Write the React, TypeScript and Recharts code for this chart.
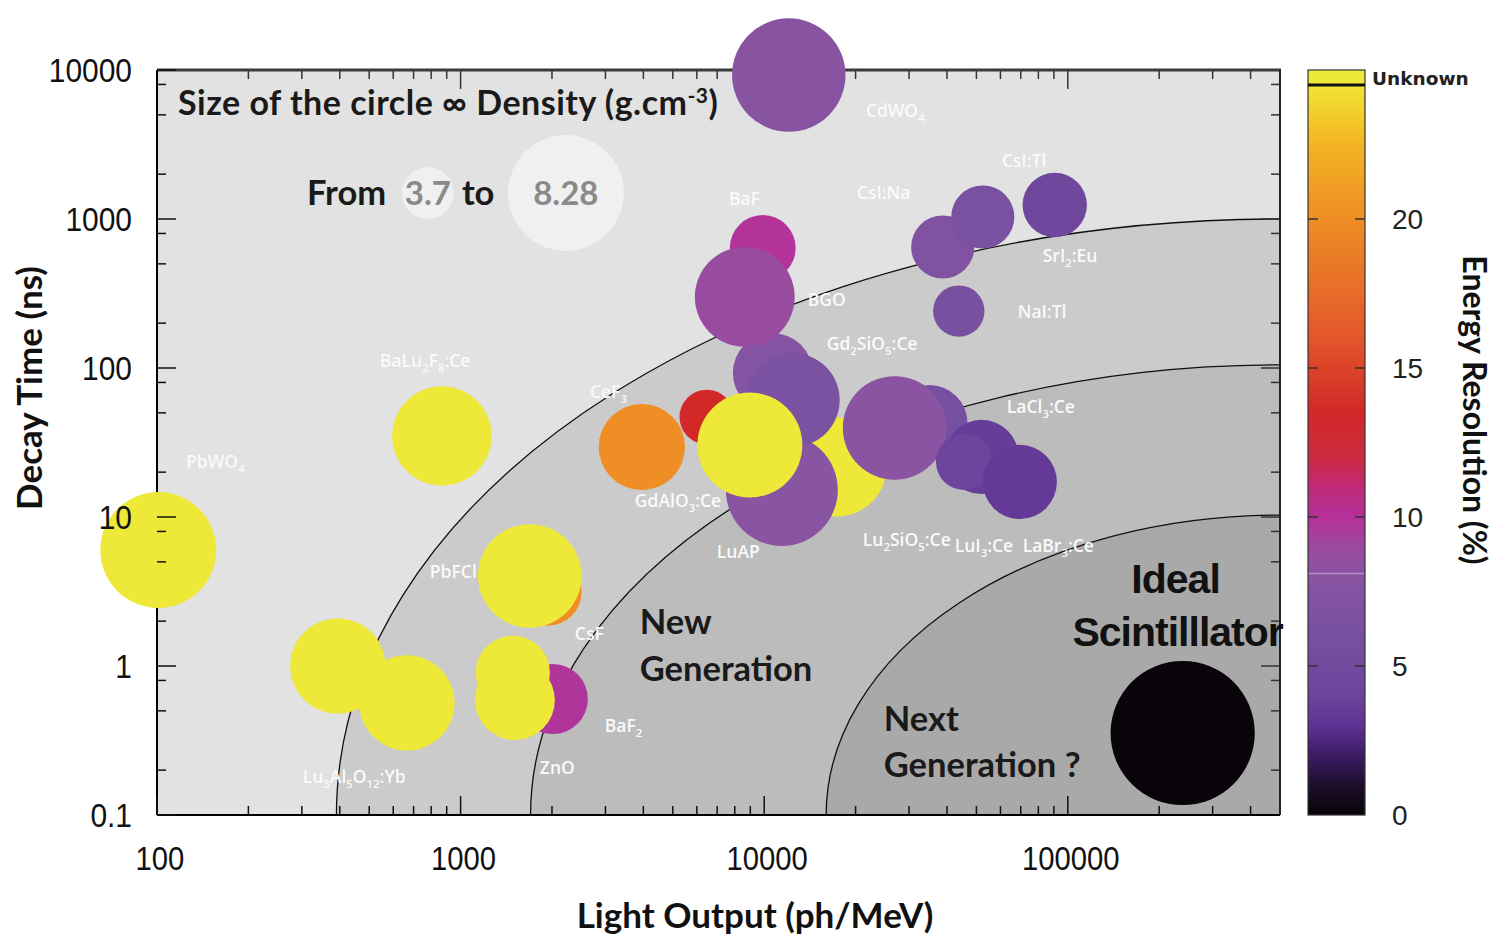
import React from 'react';
import * as R from 'recharts';

const { ScatterChart, Scatter, XAxis, YAxis } = R as any;

// ---------------- axes ----------------
const X_DOMAIN = [100, 500000];
const Y_DOMAIN = [0.1, 10000];
const X_MAJOR = [100, 1000, 10000, 100000];
const X_MINOR = [200, 300, 400, 500, 600, 700, 800, 900, 2000, 3000, 4000, 5000, 6000, 7000, 8000, 9000,
  20000, 30000, 40000, 50000, 60000, 70000, 80000, 90000, 200000, 300000, 400000];
const Y_MAJOR = [0.1, 1, 10, 100, 1000, 10000];
const Y_MINOR = [0.2, 0.5, 0.8, 2, 5, 8, 20, 50, 80, 200, 500, 800, 2000, 5000, 8000];
const X_TICK_LABELS = ['100', '1000', '10000', '100000'];
const Y_TICK_LABELS = ['0.1', '1', '10', '100', '1000', '10000'];

// ---------------- colour bar (energy resolution %) ----------------
const CB_TICKS = [0, 5, 10, 15, 20];
const CB_MAX = 25;
const CB_UNKNOWN_FROM = 24.5;
const ER_STOP_VALUES = [0, 1, 2, 3, 4, 6, 8, 9, 10, 11, 12, 13.5, 16, 20, 22.5, 24.5];
const ER_STOP_COLORS = ['#08040a', '#1e0e2c', '#3c1c64', '#5e3294', '#6c449c', '#7650a0', '#8a54a2', '#9c4aa0',
  '#b5309a', '#c02a78', '#cc2a40', '#d22828', '#e2562a', '#ef8e25', '#f3b423', '#f0e535'];
const UNKNOWN_COLOR = '#eee838';

// ---------------- crystals (circles) ----------------
const CRYSTAL = ['PbWO4', 'LuAG:Yb a', 'LuAG:Yb b', 'BaLu2F8:Ce', 'CsF', 'PbFCl', 'BaF2 fast', 'ZnO a', 'ZnO b', 'CeF3',
  'YAP-like', 'LuAP', 'LGSO', 'GSO', 'red', 'GdAlO3:Ce', 'BaF2 slow', 'BGO', 'CdWO4', 'CsI:Na', 'CsI:Tl', 'SrI2:Eu',
  'NaI:Tl', 'LaCl3:Ce', 'LSO', 'LuI3:Ce', 'LuI3:Ce b', 'LaBr3:Ce', 'Ideal'];
const LIGHT_OUTPUT = [101, 394, 666, 868, 1940, 1690, 2013, 1486, 1510, 3953,
  17340, 11430, 10670, 12420, 6470, 8970, 9890, 8630, 12050, 38730, 52480, 90570,
  43750, 35080, 26900, 52000, 45500, 69500, 239000];
const DECAY_TIME = [6.0, 1.0, 0.565, 35, 3.14, 4.02, 0.6, 0.9, 0.59, 29.5,
  21.7, 15.2, 92.5, 61, 46.9, 30.4, 639, 300, 9250, 649, 1031, 1242,
  241, 42.8, 39.6, 25.3, 23.4, 17.2, 0.355];
const DENSITY = [8.28, 6.8, 6.8, 7.1, 4.8, 7.4, 5.0, 5.3, 5.7, 6.16,
  7.1, 8.0, 5.7, 6.7, 3.9, 7.5, 4.7, 7.13, 8.1, 4.51, 4.51, 4.6,
  3.67, 5.4, 7.4, 5.3, 4.0, 5.3, 10.3];
const ENERGY_RES: (number | null)[] = [null, null, null, null, 20, null, 9.8, null, null, 20,
  null, 7.9, 7.4, 6.5, 13.5, null, 9.9, 8.8, 7.8, 7.0, 6.3, 4.5,
  6.2, 6.0, 8.0, 3.6, 4.2, 3.4, 0];

// ---------------- crystal name labels ----------------
const LABEL_TEXT = ['CdWO_4', 'CsI:Tl', 'CsI:Na', 'BaF', 'SrI_2:Eu', 'BGO', 'NaI:Tl', 'Gd_2SiO_5:Ce', 'BaLu_2F_8:Ce',
  'CeF_3', 'LaCl_3:Ce', 'PbWO_4', 'GdAlO_3:Ce', 'Lu_2SiO_5:Ce', 'LuI_3:Ce', 'LaBr_3:Ce', 'LuAP', 'PbFCl', 'CsF',
  'BaF_2', 'ZnO', 'Lu_3Al_5O_12:Yb'];
const LABEL_X = [21620, 60600, 20180, 7650, 82700, 13920, 68400, 16070, 542, 2666, 62950, 124.6, 3750, 21130,
  42400, 71000, 6980, 792, 2378, 2985, 1824, 302];
const LABEL_Y = [5309, 2449, 1494, 1361, 565, 286, 237, 145, 111, 69, 54.7, 23.4, 12.8, 7.0, 6.4, 6.4, 5.82,
  4.27, 1.64, 0.396, 0.207, 0.18];

// ---------------- annotations ----------------
const NOTE_TEXT = ['New', 'Generation', 'Next', 'Generation ?', 'From', 'to'];
const NOTE_X = [3892, 3892, 24770, 24770, 311.8, 1010];
const NOTE_Y = [1.97, 0.955, 0.441, 0.217, 1494, 1494];
const IDEAL_TEXT = ['Ideal', 'Scintilllator'];
const IDEAL_X = [226500, 230000];
const IDEAL_Y = [3.9, 1.72];
const TITLE_X = [117.3];
const TITLE_Y = [6012];
const LEGEND_DENSITY = [3.7, 8.28];
const LEGEND_X = [780, 2222];
const LEGEND_Y = [1494, 1494];

// ---------------- background zones ----------------
const ZONE_X_START = [390, 1700, 16000];
const ZONE_Y_END = [1000, 105, 10.3];

// ---------------- built tables ----------------
const circles = CRYSTAL.map((name, i) => ({
  name, x: LIGHT_OUTPUT[i], y: DECAY_TIME[i], density: DENSITY[i], er: ENERGY_RES[i],
}));
const labels = LABEL_TEXT.map((t, i) => ({ text: t, x: LABEL_X[i], y: LABEL_Y[i] }));
const notes = NOTE_TEXT.map((t, i) => ({ text: t, x: NOTE_X[i], y: NOTE_Y[i] }));
const idealNotes = IDEAL_TEXT.map((t, i) => ({ text: t, x: IDEAL_X[i], y: IDEAL_Y[i] }));
const titleNote = TITLE_X.map((x, i) => ({ x, y: TITLE_Y[i] }));
const legendCircles = LEGEND_DENSITY.map((d, i) => ({ density: d, x: LEGEND_X[i], y: LEGEND_Y[i] }));

// ---------------- styling ----------------
const PX_PER_DENSITY = 7.0;
const ZONE_FILLS = ['#e1e2e1', '#cbcbcb', '#bcbcbc', '#a9a9a9'];
const BOLD_FONT = "Lato, 'Open Sans', sans-serif";
const TICK_FONT = "'Liberation Sans', Arial, sans-serif";
const FALLBACK_AREA = { x: 157, y: 70, width: 1123, height: 745 };

function hexToRgb(h: string) {
  const n = parseInt(h.slice(1), 16);
  return [(n >> 16) & 255, (n >> 8) & 255, n & 255];
}
function erColor(er: number | null) {
  if (er == null) return UNKNOWN_COLOR;
  const v = ER_STOP_VALUES;
  if (er <= v[0]) return ER_STOP_COLORS[0];
  for (let i = 1; i < v.length; i++) {
    if (er <= v[i]) {
      const t = (er - v[i - 1]) / (v[i] - v[i - 1]);
      const a = hexToRgb(ER_STOP_COLORS[i - 1]);
      const b = hexToRgb(ER_STOP_COLORS[i]);
      const c = a.map((av, k) => Math.round(av + (b[k] - av) * t));
      return `rgb(${c[0]},${c[1]},${c[2]})`;
    }
  }
  return ER_STOP_COLORS[ER_STOP_COLORS.length - 1];
}

function usePA() {
  const hook = (R as any).usePlotArea;
  const pa = hook ? hook() : null;
  return pa && pa.width ? pa : FALLBACK_AREA;
}

const LX0 = Math.log10(X_DOMAIN[0]);
const LX1 = Math.log10(X_DOMAIN[1]);
const LY0 = Math.log10(Y_DOMAIN[0]);
const LY1 = Math.log10(Y_DOMAIN[1]);

function Background() {
  const { x, y, width, height } = usePA();
  const right = x + width;
  const bottom = y + height;
  const px = (v: number) => x + (width * (Math.log10(v) - LX0)) / (LX1 - LX0);
  const py = (v: number) => y + (height * (LY1 - Math.log10(v))) / (LY1 - LY0);
  return (
    <g>
      <rect x={x} y={y} width={width} height={height} fill={ZONE_FILLS[0]} />
      {ZONE_X_START.map((xs, i) => {
        const x0 = px(xs);
        const y0 = py(ZONE_Y_END[i]);
        const rx = right - x0;
        const ry = bottom - y0;
        const arc = `M${x0},${bottom} A${rx},${ry} 0 0 1 ${right},${y0}`;
        return (
          <g key={i}>
            <path d={`${arc} L${right},${bottom} Z`} fill={ZONE_FILLS[i + 1]} />
            <path d={arc} fill="none" stroke="#111" strokeWidth={1.3} />
          </g>
        );
      })}
    </g>
  );
}

const isMajor = (list: number[], v: number) => list.some((m) => Math.abs(m - v) / m < 1e-6);

// top and right frame: lines and inward ticks placed with the same log mapping as the axes
function Frame() {
  const { x, y, width, height } = usePA();
  const right = x + width;
  const bottom = y + height;
  const px = (v: number) => x + (width * (Math.log10(v) - LX0)) / (LX1 - LX0);
  const py = (v: number) => y + (height * (LY1 - Math.log10(v))) / (LY1 - LY0);
  return (
    <g>
      {[...X_MAJOR, ...X_MINOR].map((v) => {
        const len = isMajor(X_MAJOR, v) ? 19 : 9;
        return <line key={`t${v}`} x1={px(v)} x2={px(v)} y1={y} y2={y + len} stroke="#333" strokeWidth={1.5} />;
      })}
      {[...Y_MAJOR, ...Y_MINOR].map((v) => {
        const len = isMajor(Y_MAJOR, v) ? 19 : 9;
        return <line key={`r${v}`} x1={right} x2={right - len} y1={py(v)} y2={py(v)} stroke="#333" strokeWidth={1.5} />;
      })}
      <line x1={x} x2={right + 1} y1={y} y2={y} stroke="#3a3a3a" strokeWidth={3} />
      <line x1={right} x2={right} y1={y} y2={bottom} stroke="#222" strokeWidth={2} />
    </g>
  );
}

function ColorBar() {
  const { x, y, width, height } = usePA();
  const bx = x + width + 28;
  const bw = 57;
  const bottom = y + height;
  const vy = (v: number) => bottom - (v / CB_MAX) * height;
  const gTop = vy(CB_UNKNOWN_FROM);
  return (
    <g>
      <defs>
        <linearGradient id="erGrad" x1="0" y1="1" x2="0" y2="0">
          {ER_STOP_VALUES.map((v, i) => (
            <stop key={i} offset={v / CB_UNKNOWN_FROM} stopColor={ER_STOP_COLORS[i]} />
          ))}
        </linearGradient>
      </defs>
      <rect x={bx} y={y} width={bw} height={gTop - y} fill={UNKNOWN_COLOR} />
      <rect x={bx} y={gTop} width={bw} height={bottom - gTop} fill="url(#erGrad)" />
      <line x1={bx} x2={bx + bw} y1={vy(8.1)} y2={vy(8.1)} stroke="#ffffff" strokeOpacity={0.35} strokeWidth={1.5} />
      <rect x={bx} y={y} width={bw} height={height} fill="none" stroke="#333" strokeWidth={1.2} />
      <line x1={bx} x2={bx + bw} y1={gTop} y2={gTop} stroke="#111" strokeWidth={3} />
      {CB_TICKS.map((v) => (
        <g key={v}>
          {v > 0 && (
            <>
              <line x1={bx} x2={bx + 10} y1={vy(v)} y2={vy(v)} stroke="#333" strokeWidth={1.5} />
              <line x1={bx + bw - 10} x2={bx + bw} y1={vy(v)} y2={vy(v)} stroke="#333" strokeWidth={1.5} />
            </>
          )}
          <text x={bx + 84} y={vy(v) + 10} fontFamily={TICK_FONT} fontSize={28} fill="#222">{v}</text>
        </g>
      ))}
      <text x={bx + 64} y={y + 15} fontFamily="'DejaVu Sans', sans-serif" fontWeight={700} fontSize={18.5} fill="#222">Unknown</text>
      <text transform={`translate(${bx + 155},${y + 340}) rotate(90)`} textAnchor="middle" fontFamily={BOLD_FONT}
        fontWeight={700} fontSize={32} fill="#111">Energy Resolution (%)</text>
    </g>
  );
}

function AxisTitles() {
  const { x, y } = usePA();
  return (
    <g>
      <text x={x + 598} y={y + 858} textAnchor="middle" fontFamily={BOLD_FONT} fontWeight={700} fontSize={35} fill="#111">
        Light Output (ph/MeV)
      </text>
      <text transform={`translate(${x - 115},${y + 318}) rotate(-90)`} textAnchor="middle" fontFamily={BOLD_FONT}
        fontWeight={700} fontSize={35} fill="#111">Decay Time (ns)</text>
    </g>
  );
}

function makeTick(side: 'bottom' | 'left') {
  return (p: any) => {
    const { x, y, payload } = p;
    const v = payload.value;
    const list = side === 'bottom' ? X_MAJOR : Y_MAJOR;
    const major = isMajor(list, v);
    const len = major ? 19 : 9;
    let line;
    if (side === 'bottom') line = <line x1={x} x2={x} y1={y} y2={y - len} stroke="#111" strokeWidth={1.5} />;
    else line = <line x1={x} x2={x + len} y1={y} y2={y} stroke="#111" strokeWidth={1.5} />;
    let label = null;
    if (major && side === 'bottom') {
      const idx = X_MAJOR.findIndex((m) => Math.abs(m - v) / m < 1e-6);
      label = (
        <g transform={`translate(${x + 3},${y + 55}) scale(0.86,1)`}>
          <text x={0} y={0} textAnchor="middle" fontFamily={TICK_FONT} fontSize={34} fill="#111">{X_TICK_LABELS[idx]}</text>
        </g>
      );
    }
    if (major && side === 'left') {
      const idx = Y_MAJOR.findIndex((m) => Math.abs(m - v) / m < 1e-6);
      label = (
        <g transform={`translate(${x - 25},${y + 12}) scale(0.88,1)`}>
          <text x={0} y={0} textAnchor="end" fontFamily={TICK_FONT} fontSize={34} fill="#111">{Y_TICK_LABELS[idx]}</text>
        </g>
      );
    }
    return (
      <g>
        {line}
        {label}
      </g>
    );
  };
}

function renderSub(text: string, size: number) {
  const parts = text.split(/_(\d+)/);
  const out: any[] = [];
  let shifted = false;
  parts.forEach((s, i) => {
    if (!s) return;
    if (i % 2 === 1) {
      out.push(<tspan key={i} dy={size * 0.3} fontSize={size * 0.65}>{s}</tspan>);
      shifted = true;
    } else {
      out.push(<tspan key={i} dy={shifted ? -size * 0.3 : 0}>{s}</tspan>);
      shifted = false;
    }
  });
  return out;
}

const CircleShape = (p: any) => (
  <circle cx={p.cx} cy={p.cy} r={PX_PER_DENSITY * p.payload.density} fill={erColor(p.payload.er)} />
);
const LegendShape = (p: any) => (
  <g>
    <circle cx={p.cx} cy={p.cy} r={PX_PER_DENSITY * p.payload.density} fill="#f2f2f2" fillOpacity={0.85} />
    <text x={p.cx} y={p.cy + 12} textAnchor="middle" fontFamily={BOLD_FONT} fontWeight={700} fontSize={33} fill="#8a8a8a">
      {String(p.payload.density)}
    </text>
  </g>
);
const LabelShape = (p: any) => (
  <text x={p.cx} y={p.cy + 6} fontFamily="'Open Sans', sans-serif" fontWeight={600} fontSize={17.5} fill="#fafafa">
    {renderSub(p.payload.text, 17.5)}
  </text>
);
const NoteShape = (p: any) => (
  <text x={p.cx} y={p.cy + 12} fontFamily={BOLD_FONT} fontWeight={700} fontSize={34.5} fill="#1a1a1a">
    {p.payload.text}
  </text>
);
const IdealShape = (p: any) => (
  <text x={p.cx} y={p.cy + 15} textAnchor="middle" fontFamily="'Liberation Sans', Arial, sans-serif" fontWeight={700}
    fontSize={41} letterSpacing={-1} fill="#111">
    {p.payload.text}
  </text>
);
const TitleShape = (p: any) => (
  <text x={p.cx} y={p.cy + 12} fontFamily={BOLD_FONT} fontWeight={700} fontSize={34} letterSpacing={0.5} fill="#1a1a1a">
    Size of the circle ∞ Density (g.cm<tspan dy={-12} fontSize={21}>-3</tspan><tspan dy={12}>)</tspan>
  </text>
);

export default function App() {
  const axisCommon = { type: 'number', scale: 'log', interval: 0, tickSize: 0, tickMargin: 0, tickLine: false };
  return (
    <div style={{ position: 'absolute', left: 0, top: 0, width: 1498, height: 937, background: '#fff' }}>
      <ScatterChart width={1498} height={937} margin={{ top: 70, right: 218, bottom: 0, left: 0 }}>
        <Background />
        <XAxis xAxisId="b" dataKey="x" orientation="bottom" domain={X_DOMAIN} ticks={[...X_MAJOR, ...X_MINOR]}
          height={122} axisLine={{ stroke: '#000', strokeWidth: 2 }} tick={makeTick('bottom')} {...axisCommon} />
        <YAxis yAxisId="l" dataKey="y" orientation="left" domain={Y_DOMAIN} ticks={[...Y_MAJOR, ...Y_MINOR]}
          width={157} axisLine={{ stroke: '#000', strokeWidth: 2 }} tick={makeTick('left')} {...axisCommon} />
        <Frame />
        <Scatter xAxisId="b" yAxisId="l" data={legendCircles} shape={LegendShape} isAnimationActive={false} />
        <Scatter xAxisId="b" yAxisId="l" data={circles} shape={CircleShape} isAnimationActive={false} />
        <Scatter xAxisId="b" yAxisId="l" data={labels} shape={LabelShape} isAnimationActive={false} />
        <Scatter xAxisId="b" yAxisId="l" data={notes} shape={NoteShape} isAnimationActive={false} />
        <Scatter xAxisId="b" yAxisId="l" data={idealNotes} shape={IdealShape} isAnimationActive={false} />
        <Scatter xAxisId="b" yAxisId="l" data={titleNote} shape={TitleShape} isAnimationActive={false} />
        <ColorBar />
        <AxisTitles />
      </ScatterChart>
    </div>
  );
}
